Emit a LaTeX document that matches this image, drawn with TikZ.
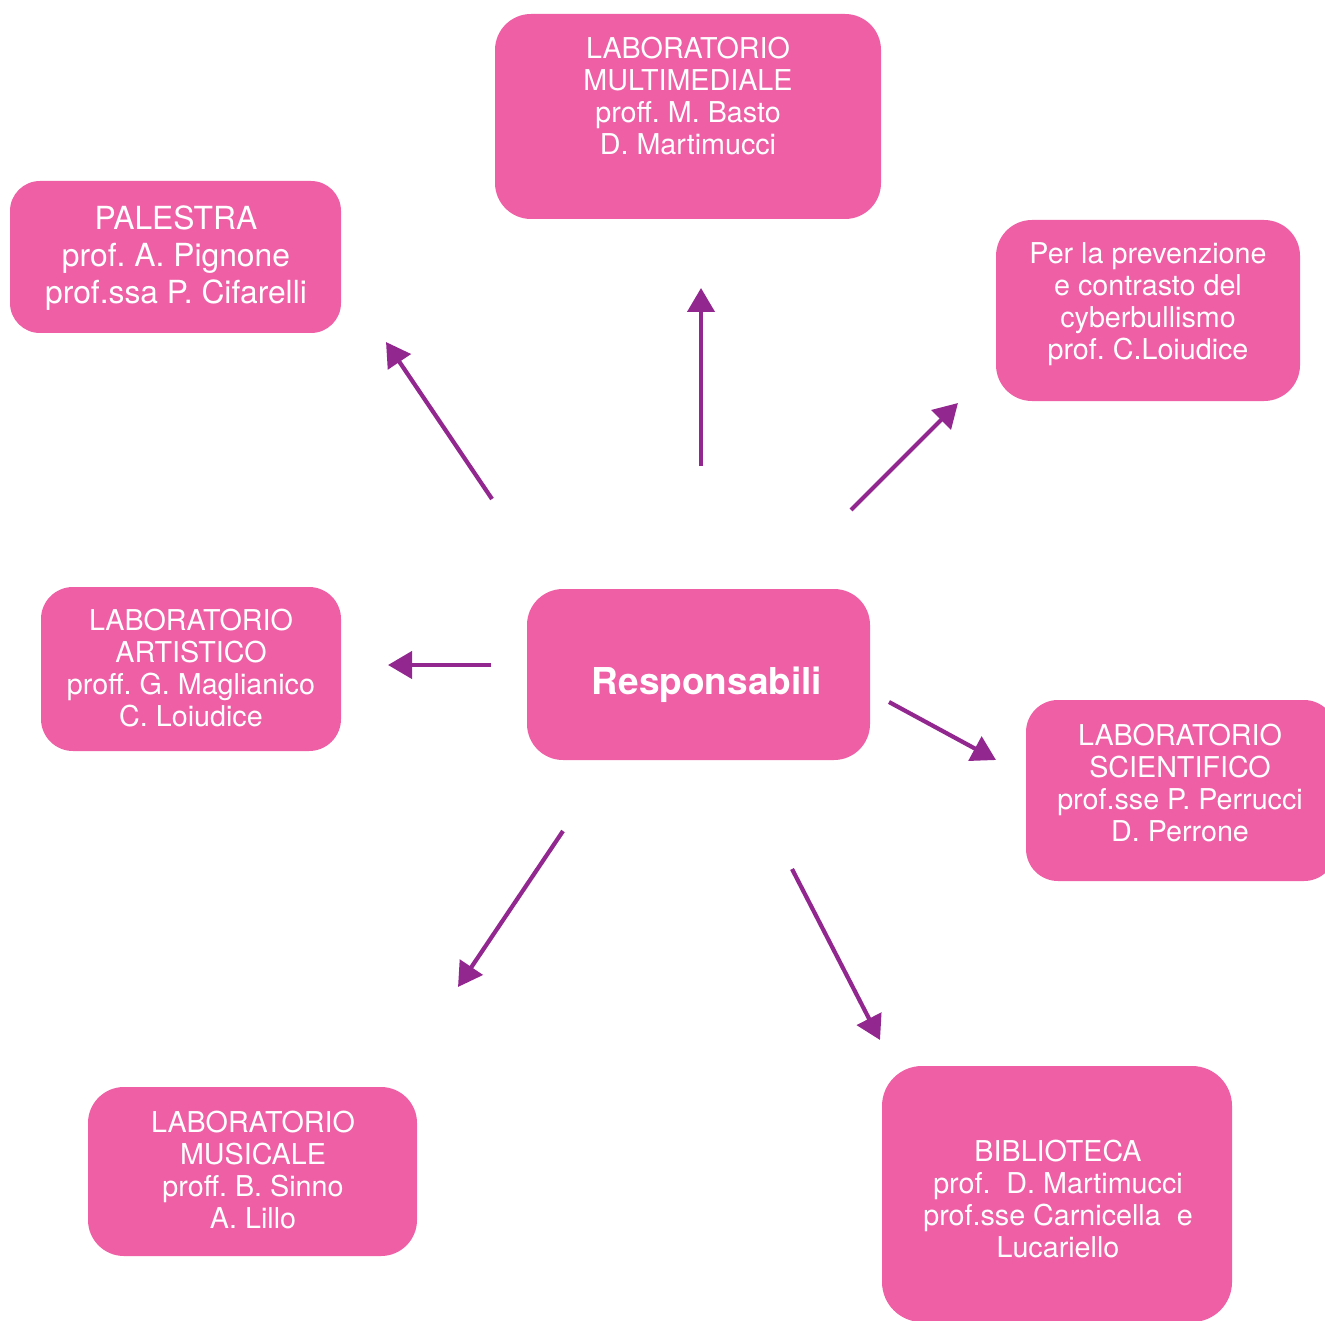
\documentclass[tikz,border=0pt]{standalone}
\usepackage{fontspec}
\setmainfont{TeX Gyre Heros}
\usetikzlibrary{arrows.meta}
\frenchspacing

\definecolor{boxpink}{HTML}{EE5FA6}
\definecolor{arrowpurple}{HTML}{92278F}

\tikzset{
  box/.style={fill=boxpink, draw=none, rounded corners=18pt, inner sep=0pt},
  txt/.style={text=white, align=center, inner sep=0pt, font=\fontsize{14.35}{16}\selectfont},
  arr/.style={-{Triangle[length=12pt,width=13.5pt]}, line width=2.1pt, arrowpurple}
}

\begin{document}
\begin{tikzpicture}[x=0.5pt,y=-0.5pt]
  \useasboundingbox (0,0) rectangle (1325,1320);
  \clip (0,0) rectangle (1325,1320);

  % ===== Boxes =====
  \node[box,minimum width=193pt,minimum height=102.5pt] (multimediale) at (688,116.5) {};
  \node[box,minimum width=165.5pt,minimum height=76pt,rounded corners=15pt] (palestra) at (175.5,257) {};
  \node[box,minimum width=152pt,minimum height=90.5pt] (cyber) at (1148,310.5) {};
  \node[box,minimum width=171.5pt,minimum height=85.5pt] (responsabili) at (698.5,674.5) {};
  \node[box,minimum width=150pt,minimum height=82pt,rounded corners=16pt] (artistico) at (191,669) {};
  \node[box,minimum width=155pt,minimum height=90.5pt,rounded corners=16pt] (scientifico) at (1181,790.5) {};
  \node[box,minimum width=164.5pt,minimum height=84.5pt] (musicale) at (252.5,1171.5) {};
  \node[box,minimum width=175pt,minimum height=128pt,rounded corners=20pt] (biblioteca) at (1057,1194) {};

  % --- Labels ---
  \node[txt] (multimediale-t) at (688,96) {LABORATORIO\\MULTIMEDIALE\\proff. M. Basto\\D. Martimucci};
  \node[txt,font=\fontsize{15.9}{18.5}\selectfont] (palestra-t) at (176,258) {PALESTRA\\prof. A. Pignone\\prof.ssa P. Cifarelli};
  \node[txt] (cyber-t) at (1148,304) {Per la prevenzione\\e contrasto del\\cyberbullismo\\prof. C.Loiudice};
  \node[txt,font=\fontsize{18.5}{20}\selectfont\bfseries] (responsabili-t) at (707,685) {Responsabili};
  \node[txt] (artistico-t) at (191,668) {LABORATORIO\\ARTISTICO\\proff. G. Maglianico\\C. Loiudice};
  \node[txt] (scientifico-t) at (1180,783) {LABORATORIO\\SCIENTIFICO\\prof.sse P. Perrucci\\D. Perrone};
  \node[txt] (musicale-t) at (253,1170) {LABORATORIO\\MUSICALE\\proff. B. Sinno\\A. Lillo};
  \node[txt] (biblioteca-t) at (1058,1199) {BIBLIOTECA\\prof.\ \ D. Martimucci\\prof.sse Carnicella\ \ e\\Lucariello};

  % --- Arrow ends ---
  \coordinate (a-palestra)    at (386,342);
  \coordinate (s-palestra)    at (492,499);
  \coordinate (a-multi)       at (701,288);
  \coordinate (s-multi)       at (701,466);
  \coordinate (a-cyber)       at (958,403);
  \coordinate (s-cyber)       at (851,510);
  \coordinate (a-artistico)   at (388,665);
  \coordinate (s-artistico)   at (491,665);
  \coordinate (a-scientifico) at (996,760);
  \coordinate (s-scientifico) at (889,702);
  \coordinate (a-musicale)    at (458,987);
  \coordinate (s-musicale)    at (563,831);
  \coordinate (a-biblioteca)  at (880,1040);
  \coordinate (s-biblioteca)  at (792,869);

  % --- Arrows ---
  \foreach \n in {palestra,multi,cyber,artistico,scientifico,musicale,biblioteca} {
    \draw[arr] (s-\n) -- (a-\n);
  }
\end{tikzpicture}
\end{document}
